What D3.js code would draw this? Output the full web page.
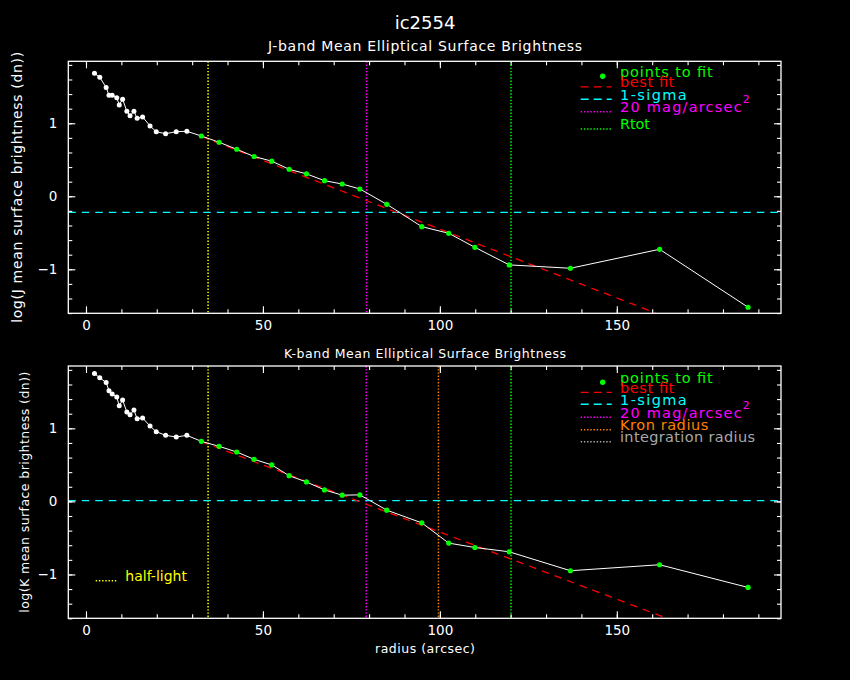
<!DOCTYPE html>
<html>
<head>
<meta charset="utf-8">
<script src="https://cdn.jsdelivr.net/npm/d3@7"></script>
<style>
  body { margin: 0; background: #000; }
  svg { display: block; }
  text { font-family: "DejaVu Sans", sans-serif; }
</style>
</head>
<body>
<svg id="chart"></svg>
<script>
// Surface brightness profiles of ic2554 (J and K band)

// radius of every ellipse (arcsec), shared by both bands
const radius = [2.4, 3.9, 5.7, 6.5, 7.4, 8.7, 9.4, 10.35, 11.55, 12.45, 13.55, 14.45,
    16.0, 18.1, 19.85, 22.5, 25.5, 28.5, 32.6, 37.6, 42.6, 47.5, 52.5, 57.4, 62.3,
    67.4, 72.4, 77.4, 85.0, 94.9, 102.5, 109.9, 119.6, 136.9, 162.1, 187.1];

const logJ = [1.685, 1.63, 1.49, 1.384, 1.384, 1.348, 1.252, 1.33, 1.164, 1.104, 1.164,
    1.068, 1.086, 0.963, 0.885, 0.857, 0.885, 0.89, 0.826, 0.74, 0.644, 0.545, 0.481,
    0.37, 0.307, 0.214, 0.168, 0.10, -0.11, -0.416, -0.507, -0.699, -0.94, -0.986,
    -0.726, -1.52];

const logK = [1.751, 1.691, 1.628, 1.514, 1.469, 1.428, 1.309, 1.387, 1.223, 1.186, 1.25,
    1.131, 1.141, 1.031, 0.954, 0.904, 0.881, 0.904, 0.822, 0.754, 0.676, 0.576, 0.499,
    0.352, 0.266, 0.157, 0.085, 0.089, -0.12, -0.294, -0.571, -0.631, -0.69, -0.949,
    -0.867, -1.178];

// points from this index on are used in the fit
const firstFit = 18;

// best fit line end points
const fitJx = [32.6, 161.0], fitJy = [0.82, -1.60];
const fitKx = [32.5, 164.2], fitKy = [0.82, -1.60];

// reference levels / radii
const sigmaJ = -0.22, sigmaK = 0.01;
const halfLight = 34.5;
const mag20J = 79.3, mag20K = 79.2;
const kronRadius = 99.6;
const rTot = 120.1;

const xMajor = [0, 50, 100, 150];
const xMinor = d3.range(0, 200, 10);
const yMajor = [-1, 0, 1];
const yMinor = d3.range(-16, 19, 2).map(v => v / 10);

const col = {
    green: "#00ff00", red: "#ff0000", cyan: "#00ffff", magenta: "#ff00ff",
    yellow: "#ffff00", orange: "#ff8000", gray: "#a8a8a8", white: "#ffffff"
};
const DASH = "7.5,6";
const DOT = "1.4,1.8";

const width = 850, height = 680;
const svg = d3.select("#chart").attr("width", width).attr("height", height);
svg.append("rect").attr("width", width).attr("height", height).attr("fill", "#000");

const x = d3.scaleLinear().domain([-5, 196.4]).range([68.3, 781]);

function drawPanel(p) {
    const y = d3.scaleLinear().domain(p.yDomain).range([p.bottom, p.top]);
    const g = svg.append("g");
    const clipId = "clip" + p.id;
    svg.append("clipPath").attr("id", clipId)
        .append("rect")
        .attr("x", x.range()[0]).attr("y", p.top)
        .attr("width", x.range()[1] - x.range()[0]).attr("height", p.bottom - p.top);

    const plot = g.append("g").attr("clip-path", `url(#${clipId})`);

    // vertical reference lines
    p.vlines.forEach(v => {
        plot.append("line")
            .attr("x1", x(v.r)).attr("x2", x(v.r))
            .attr("y1", p.top).attr("y2", p.bottom)
            .attr("stroke", v.color).attr("stroke-width", 1.5)
            .attr("stroke-dasharray", DOT);
    });

    // 1-sigma level
    plot.append("line")
        .attr("x1", x.range()[0]).attr("x2", x.range()[1])
        .attr("y1", y(p.sigma)).attr("y2", y(p.sigma))
        .attr("stroke", col.cyan).attr("stroke-width", 1.4)
        .attr("stroke-dasharray", DASH);

    // best fit
    plot.append("line")
        .attr("x1", x(p.fitX[0])).attr("y1", y(p.fitY[0]))
        .attr("x2", x(p.fitX[1])).attr("y2", y(p.fitY[1]))
        .attr("stroke", col.red).attr("stroke-width", 1.3)
        .attr("stroke-dasharray", DASH);

    const pts = radius.map((r, i) => ({ r, v: p.values[i], fit: i >= firstFit }));

    plot.append("path")
        .datum(pts)
        .attr("fill", "none").attr("stroke", col.white).attr("stroke-width", 1)
        .attr("d", d3.line().x(d => x(d.r)).y(d => y(d.v)));

    plot.selectAll("circle.pt").data(pts).enter().append("circle")
        .attr("class", "pt")
        .attr("cx", d => x(d.r)).attr("cy", d => y(d.v))
        .attr("r", d => d.fit ? 2.6 : 2.5)
        .attr("fill", d => d.fit ? col.green : col.white);

    // axes: ticks point inward
    const styleAxis = sel => {
        sel.select(".domain").remove();
        sel.selectAll("line").attr("stroke", col.white).attr("stroke-width", 1.1);
        sel.selectAll("text").attr("fill", col.white)
            .style("font-size", "13.5px").style("font-family", "DejaVu Sans, sans-serif");
        sel.attr("font-size", null).attr("font-family", null);
    };

    g.append("g").attr("transform", `translate(0,${p.bottom})`)
        .call(d3.axisBottom(x).tickValues(xMinor).tickSize(-4).tickFormat("")).call(styleAxis);
    g.append("g").attr("transform", `translate(0,${p.bottom})`)
        .call(d3.axisBottom(x).tickValues(xMajor).tickSize(-7).tickPadding(7)
            .tickFormat(d3.format("d"))).call(styleAxis);
    g.append("g").attr("transform", `translate(0,${p.top})`)
        .call(d3.axisTop(x).tickValues(xMinor).tickSize(-4).tickFormat("")).call(styleAxis);
    g.append("g").attr("transform", `translate(0,${p.top})`)
        .call(d3.axisTop(x).tickValues(xMajor).tickSize(-7).tickFormat("")).call(styleAxis);

    g.append("g").attr("transform", `translate(${x.range()[0]},0)`)
        .call(d3.axisLeft(y).tickValues(yMinor).tickSize(-4).tickFormat("")).call(styleAxis);
    g.append("g").attr("transform", `translate(${x.range()[0]},0)`)
        .call(d3.axisLeft(y).tickValues(yMajor).tickSize(-7).tickPadding(11)
            .tickFormat(d3.format("d"))).call(styleAxis);
    g.append("g").attr("transform", `translate(${x.range()[1]},0)`)
        .call(d3.axisRight(y).tickValues(yMinor).tickSize(-4).tickFormat("")).call(styleAxis);
    g.append("g").attr("transform", `translate(${x.range()[1]},0)`)
        .call(d3.axisRight(y).tickValues(yMajor).tickSize(-7).tickFormat("")).call(styleAxis);

    g.append("rect")
        .attr("x", x.range()[0]).attr("y", p.top)
        .attr("width", x.range()[1] - x.range()[0]).attr("height", p.bottom - p.top)
        .attr("fill", "none").attr("stroke", col.white).attr("stroke-width", 1.3);

    // subtitle and y label
    svg.append("text")
        .attr("x", 425).attr("y", p.titleY).attr("text-anchor", "middle")
        .attr("fill", col.white).style("font-size", p.fontSize + "px")
        .attr("textLength", p.titleLen).attr("lengthAdjust", "spacing")
        .text(p.title);

    svg.append("text")
        .attr("transform", `translate(${p.ylabelX},${(p.top + p.bottom) / 2}) rotate(-90)`)
        .attr("text-anchor", "middle")
        .attr("fill", col.white).style("font-size", p.fontSize + "px")
        .attr("textLength", p.ylabelLen).attr("lengthAdjust", "spacing")
        .text(p.ylabel);

    // legend
    const lx0 = 580.7, lx1 = 611.7, tx = 620;
    p.legend.forEach(item => {
        if (item.kind === "dot") {
            svg.append("circle").attr("cx", 602.7).attr("cy", item.y - 0.4)
                .attr("r", 2.7).attr("fill", item.color);
        } else {
            svg.append("line")
                .attr("x1", lx0).attr("x2", lx1).attr("y1", item.y).attr("y2", item.y)
                .attr("stroke", item.color).attr("stroke-width", 1.4)
                .attr("stroke-dasharray", item.kind === "dash" ? "8,5" : DOT);
        }
        svg.append("text")
            .attr("x", tx).attr("y", item.y + 0.3)
            .attr("fill", item.textColor || item.color)
            .style("font-size", "14.5px")
            .attr("textLength", item.len).attr("lengthAdjust", "spacing")
            .text(item.label);
        if (item.sup) {
            svg.append("text")
                .attr("x", tx + item.len + 1).attr("y", item.y - 8.4)
                .attr("fill", item.color).style("font-size", "11px")
                .text(item.sup);
        }
    });
}

drawPanel({
    id: "J", top: 61.3, bottom: 313.3, yDomain: [-1.603, 1.849],
    values: logJ, fitX: fitJx, fitY: fitJy, sigma: sigmaJ,
    vlines: [
        { r: halfLight, color: col.yellow },
        { r: mag20J, color: col.magenta },
        { r: rTot, color: col.green }
    ],
    title: "J-band Mean Elliptical Surface Brightness", titleY: 51, titleLen: 314,
    ylabel: "log(J mean surface brightness (dn))", ylabelX: 22, ylabelLen: 271,
    fontSize: 14,
    legend: [
        { kind: "dot", y: 76.7, color: col.green, label: "points to fit", len: 92.7 },
        { kind: "dash", y: 86.9, color: col.red, label: "best fit", len: 54.3 },
        { kind: "dash", y: 99.2, color: col.cyan, label: "1-sigma", len: 66.7 },
        { kind: "dots", y: 111.7, color: col.magenta, label: "20 mag/arcsec", len: 121.7, sup: "2" },
        { kind: "dots", y: 129, color: col.green, label: "Rtot", len: 30 }
    ]
});

drawPanel({
    id: "K", top: 366, bottom: 618.3, yDomain: [-1.6, 1.853],
    values: logK, fitX: fitKx, fitY: fitKy, sigma: sigmaK,
    vlines: [
        { r: halfLight, color: col.yellow },
        { r: mag20K, color: col.magenta },
        { r: kronRadius, color: col.orange },
        { r: rTot, color: col.green }
    ],
    title: "K-band Mean Elliptical Surface Brightness", titleY: 357.5, titleLen: 282,
    ylabel: "log(K mean surface brightness (dn))", ylabelX: 28.5, ylabelLen: 241,
    fontSize: 12.5,
    legend: [
        { kind: "dot", y: 382.7, color: col.green, label: "points to fit", len: 92.7 },
        { kind: "dash", y: 392.4, color: col.red, label: "best fit", len: 54.3 },
        { kind: "dash", y: 404.2, color: col.cyan, label: "1-sigma", len: 66.7 },
        { kind: "dots", y: 417.3, color: col.magenta, label: "20 mag/arcsec", len: 121.7, sup: "2" },
        { kind: "dots", y: 429.7, color: col.orange, label: "Kron radius", len: 88.3 },
        { kind: "dots", y: 441.7, color: col.gray, label: "integration radius", len: 135 }
    ]
});

// main title
svg.append("text")
    .attr("x", 425).attr("y", 29).attr("text-anchor", "middle")
    .attr("fill", col.white).style("font-size", "18px")
    .text("ic2554");

// x axis label
svg.append("text")
    .attr("x", 425).attr("y", 653).attr("text-anchor", "middle")
    .attr("fill", col.white).style("font-size", "12.5px")
    .attr("textLength", 100).attr("lengthAdjust", "spacing")
    .text("radius (arcsec)");

// half-light key in the lower panel
svg.append("line")
    .attr("x1", 95.7).attr("x2", 116.7).attr("y1", 580.7).attr("y2", 580.7)
    .attr("stroke", col.yellow).attr("stroke-width", 1.4).attr("stroke-dasharray", DOT);
svg.append("text")
    .attr("x", 125.3).attr("y", 581).attr("fill", col.yellow)
    .style("font-size", "14px")
    .attr("textLength", 61.7).attr("lengthAdjust", "spacing")
    .text("half-light");
</script>
</body>
</html>
